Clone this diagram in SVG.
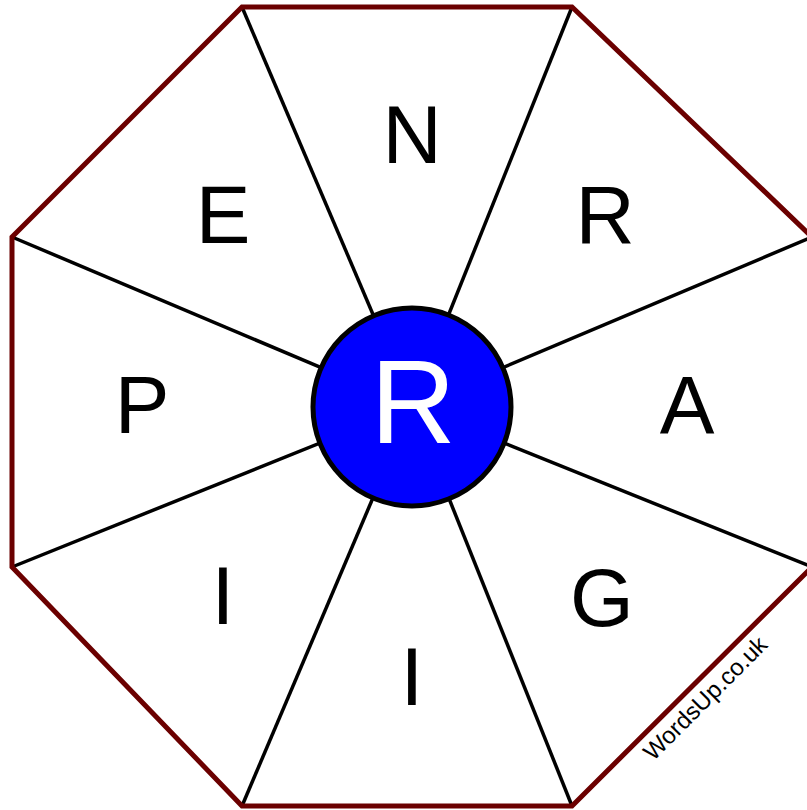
<svg xmlns="http://www.w3.org/2000/svg" width="807" height="810" viewBox="0 0 807 810">
<style>
.spoke{stroke:#000;stroke-width:3.5;fill:none}
.oct{stroke:#6b0000;stroke-width:5;fill:none;stroke-linejoin:miter}
.let{font-family:"Liberation Sans",Arial,sans-serif;font-size:82px;fill:#000;text-anchor:middle}
.mid{font-family:"Liberation Sans",Arial,sans-serif;font-size:118px;fill:#fff;text-anchor:middle}
.brand{font-family:"Liberation Sans",Arial,sans-serif;font-size:24px;fill:#000;text-anchor:middle}
</style>
<rect width="807" height="810" fill="#fff"/>
<g id="connectors">
<line class="spoke" x1="412" y1="406" x2="242" y2="7"/>
<line class="spoke" x1="412" y1="406" x2="572" y2="7"/>
<line class="spoke" x1="412" y1="406" x2="812" y2="237"/>
<line class="spoke" x1="412" y1="406" x2="812" y2="567"/>
<line class="spoke" x1="412" y1="406" x2="572" y2="806"/>
<line class="spoke" x1="412" y1="406" x2="242" y2="806"/>
<line class="spoke" x1="412" y1="406" x2="12" y2="567"/>
<line class="spoke" x1="412" y1="406" x2="12" y2="237"/>
</g>
<g id="octagon">
<polygon class="oct" points="242,7 572,7 812,237 812,567 572,806 242,806 12,567 12,237"/>
</g>
<g id="node-N"><text class="let" x="412" y="163">N</text></g>
<g id="node-R1"><text class="let" x="605" y="243">R</text></g>
<g id="node-A"><text class="let" x="687" y="433">A</text></g>
<g id="node-G"><text class="let" x="602" y="626">G</text></g>
<g id="node-I1"><text class="let" x="412" y="705">I</text></g>
<g id="node-I2"><text class="let" x="223" y="624">I</text></g>
<g id="node-P"><text class="let" x="142" y="433">P</text></g>
<g id="node-E"><text class="let" x="223" y="243">E</text></g>
<g id="center">
<circle cx="412" cy="407" r="99" fill="#0000ff" stroke="#000" stroke-width="5"/>
<text class="mid" x="413" y="443">R</text>
</g>
<text class="brand" transform="translate(711,704) rotate(-45)">WordsUp.co.uk</text>
</svg>
